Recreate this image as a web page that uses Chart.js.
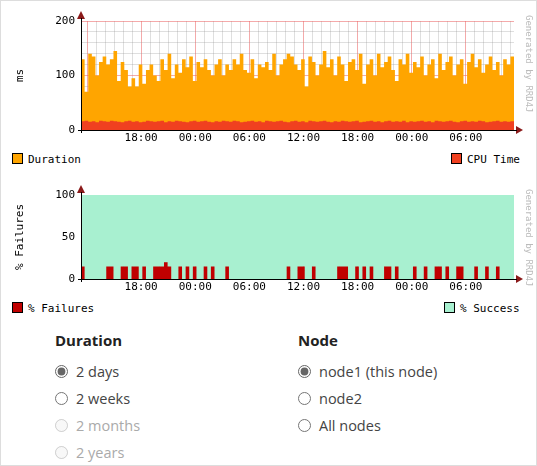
<!DOCTYPE html>
<html>
<head>
<meta charset="utf-8">
<script src="https://cdn.jsdelivr.net/npm/chart.js"></script>
<style>
  body { margin: 0; width: 537px; height: 466px; background: #fff; position: relative; overflow: hidden; font-family: "Open Sans", sans-serif; }
  .frame { position: absolute; left: 0; top: 0; width: 535px; height: 464px; border: 1px solid #ddd; }
  canvas { position: absolute; left: 0; }
  .lg { position: absolute; font: 11px "DejaVu Sans Mono", monospace; color: #000; }
  .lg i { display: inline-block; width: 9px; height: 9px; border: 1px solid #000; vertical-align: -1px; margin-right: 5px; }
  .form { position: absolute; top: 330px; font-size: 14.5px; color: #444; }
  .form h4 { margin: 0 0 8px; font-size: 15px; font-weight: bold; color: #222; }
  .form div { height: 27px; display: flex; align-items: center; }
  .form input { margin: 0 8px 0 0; width: 13px; height: 13px; accent-color: #666; }
  .dis { color: #aaa; }
</style>
</head>
<body>
<div class="frame"></div>
<canvas id="c1" width="537" height="150" style="top:0"></canvas>
<canvas id="c2" width="537" height="125" style="top:175px"></canvas>
<div class="lg" style="left:12px;top:153px"><i style="background:#ffa500"></i>Duration</div>
<div class="lg" style="left:451px;top:153px"><i style="background:#f04020"></i>CPU Time</div>
<div class="lg" style="left:12px;top:302px"><i style="background:#c00000"></i>% Failures</div>
<div class="lg" style="left:444px;top:302px"><i style="background:#a8f0d0"></i>% Success</div>
<div class="form" style="left:55px">
  <h4>Duration</h4>
  <div><input type="radio" name="d" checked>2 days</div>
  <div><input type="radio" name="d">2 weeks</div>
  <div class="dis"><input type="radio" name="d" disabled>2 months</div>
  <div class="dis"><input type="radio" name="d" disabled>2 years</div>
</div>
<div class="form" style="left:298px">
  <h4>Node</h4>
  <div><input type="radio" name="n" checked>node1 (this node)</div>
  <div><input type="radio" name="n">node2</div>
  <div><input type="radio" name="n">All nodes</div>
</div>
<script>
// hours since 11:20, one sample per 24 minutes
const stepHours = 0.4;
const firstLabelHour = 6.667; // 18:00
const timeLabels = ['18:00', '00:00', '06:00', '12:00', '18:00', '00:00', '06:00'];

const durationMs = [
  130,70,140,135,100,125,135,120,130,145,90,125,110,80,95,80,120,85,110,120,
  100,90,130,110,140,95,120,105,130,115,135,90,125,115,130,110,100,120,130,100,
  120,110,130,120,140,110,105,130,95,120,115,125,110,140,100,120,130,140,135,120,
  110,130,80,135,125,100,120,145,115,130,100,135,120,90,125,130,110,140,85,120,
  130,100,140,115,125,135,110,90,130,120,140,105,125,115,135,100,120,130,95,140,
  110,125,135,100,120,130,85,125,140,115,130,105,120,135,110,125,100,130,120,135
];
const cpuMs = [
  16,17,15,16,14,17,16,15,17,16,15,14,16,17,15,16,14,15,17,16,
  15,16,17,14,16,15,17,16,15,14,16,17,15,16,17,15,14,16,15,17,
  16,15,17,16,14,15,16,17,15,16,14,17,16,15,16,17,15,14,16,17,
  15,16,14,17,16,15,16,17,15,14,16,15,17,16,15,16,17,14,15,16,
  17,15,16,14,16,17,15,16,15,17,14,16,15,16,17,15,16,14,17,16,
  15,16,17,15,14,16,17,15,16,15,17,16,14,15,16,17,15,16,15,16
];
const failurePct = [
  15,0,0,0,0,0,0,15,15,0,0,15,15,0,15,15,0,15,0,0,
  15,15,15,20,15,0,0,15,0,15,0,15,0,0,15,0,15,0,0,0,
  15,0,0,0,0,0,0,0,0,0,0,0,0,0,0,0,0,15,0,0,
  15,15,0,0,15,0,0,0,0,0,0,15,15,15,0,0,15,0,15,0,
  15,0,0,0,15,15,0,15,0,0,0,0,15,0,0,15,0,0,15,15,
  0,15,0,0,15,15,0,0,0,15,0,0,15,0,0,15,0,0,0,0
];

const pts = arr => arr.map((v, i) => ({ x: i * stepHours, y: v }));
const endHours = durationMs.length * stepHours;
const addEnd = arr => pts(arr).concat([{ x: endHours, y: arr[arr.length - 1] }]);

const mono = { family: 'DejaVu Sans Mono', size: 11 };
const majorGrid = 'rgba(235,100,100,0.55)';
const minorGrid = 'rgba(150,150,150,0.3)';

const rrdDecor = {
  id: 'rrdDecor',
  beforeDraw(chart, args, opts) {
    const { ctx, chartArea: a } = chart;
    if (opts.bg) { ctx.save(); ctx.fillStyle = opts.bg; ctx.fillRect(a.left, a.top, a.right - a.left, a.bottom - a.top); ctx.restore(); }
  },
  afterDraw(chart) {
    const { ctx, chartArea: a } = chart;
    ctx.save();
    ctx.fillStyle = '#8b1a1a';
    ctx.beginPath(); ctx.moveTo(a.left - 4, a.top - 2); ctx.lineTo(a.left + 4, a.top - 2); ctx.lineTo(a.left, a.top - 10); ctx.fill();
    ctx.beginPath(); ctx.moveTo(a.right + 2, a.bottom - 4); ctx.lineTo(a.right + 2, a.bottom + 4); ctx.lineTo(a.right + 9, a.bottom); ctx.fill();
    ctx.strokeStyle = '#000'; ctx.lineWidth = 1;
    ctx.beginPath(); ctx.moveTo(a.left + 0.5, a.top - 3); ctx.lineTo(a.left + 0.5, a.bottom + 3);
    ctx.moveTo(a.left - 3, a.bottom + 0.5); ctx.lineTo(a.right + 3, a.bottom + 0.5); ctx.stroke();
    ctx.translate(a.right + 14, a.top - 6); ctx.rotate(Math.PI / 2);
    ctx.fillStyle = '#bbb'; ctx.font = '9px "DejaVu Sans Mono"'; ctx.textBaseline = 'middle';
    ctx.fillText('Generated by RRD4J', 0, 0);
    ctx.restore();
  }
};

function xAxis(height) {
  return {
    type: 'linear', min: 0, max: endHours, z: 1,
    afterFit(s) { s.height = height; },
    afterBuildTicks(s) {
      const t = [];
      for (let h = firstLabelHour - 6; h < endHours; h += 1) if (h > 0) t.push({ value: h });
      s.ticks = t;
    },
    ticks: {
      autoSkip: false, maxRotation: 0, font: mono, color: '#000', padding: 2,
      callback(v) {
        const k = Math.round((v - firstLabelHour) / 6);
        return Math.abs(v - firstLabelHour - 6 * k) < 0.01 && k >= 0 && k < timeLabels.length ? timeLabels[k] : '';
      }
    },
    grid: {
      color: c => Math.abs(((c.tick.value - firstLabelHour) % 6 + 6) % 6) < 0.01 ? majorGrid : minorGrid,
      drawTicks: false
    },
    border: { display: false }
  };
}
function yAxis(max, minor, title) {
  return {
    min: 0, max, stacked: true, z: 1,
    afterFit(s) { s.width = 81; },
    afterBuildTicks(s) { const t = []; for (let v = 0; v <= max; v += minor) t.push({ value: v }); s.ticks = t; },
    ticks: { font: mono, color: '#000', padding: 6, autoSkip: false, callback: v => v % (max / 2) === 0 ? v : '' },
    grid: { color: c => c.tick.value % (max / 2) === 0 ? majorGrid : minorGrid, drawTicks: false },
    border: { display: false },
    title: { display: true, text: title, font: mono, color: '#000', padding: 14 }
  };
}
const common = {
  responsive: false, animation: false, events: [],
  plugins: { legend: { display: false }, tooltip: { enabled: false } },
  elements: { point: { radius: 0 }, line: { borderWidth: 0, tension: 0 } }
};

new Chart(document.getElementById('c1'), {
  type: 'line',
  data: { datasets: [
    { label: 'CPU Time', data: addEnd(cpuMs), stepped: true, fill: 'origin', backgroundColor: '#f04020', order: 1 },
    { label: 'Duration', data: addEnd(durationMs), stepped: true, fill: 'origin', backgroundColor: '#ffa500', order: 2 }
  ] },
  options: Object.assign({}, common, {
    layout: { padding: { top: 21, right: 23, left: 0, bottom: 0 } },
    plugins: Object.assign({}, common.plugins, { rrdDecor: { bg: '#fff' } }),
    scales: { x: xAxis(20), y: Object.assign(yAxis(200, 20, 'ms'), { stacked: false }) }
  }),
  plugins: [rrdDecor]
});

const successPct = failurePct.map(v => 100 - v);
new Chart(document.getElementById('c2'), {
  type: 'line',
  data: { datasets: [
    { label: '% Failures', data: addEnd(failurePct), stepped: true, fill: 'origin', backgroundColor: '#c00000' },
    { label: '% Success', data: addEnd(successPct), stepped: true, fill: '-1', backgroundColor: '#a8f0d0' }
  ] },
  options: Object.assign({}, common, {
    layout: { padding: { top: 20, right: 23, left: 0, bottom: 0 } },
    plugins: Object.assign({}, common.plugins, { rrdDecor: { bg: '#a8f0d0' } }),
    scales: { x: xAxis(21), y: yAxis(100, 10, '% Failures') }
  }),
  plugins: [rrdDecor]
});
</script>
</body>
</html>
